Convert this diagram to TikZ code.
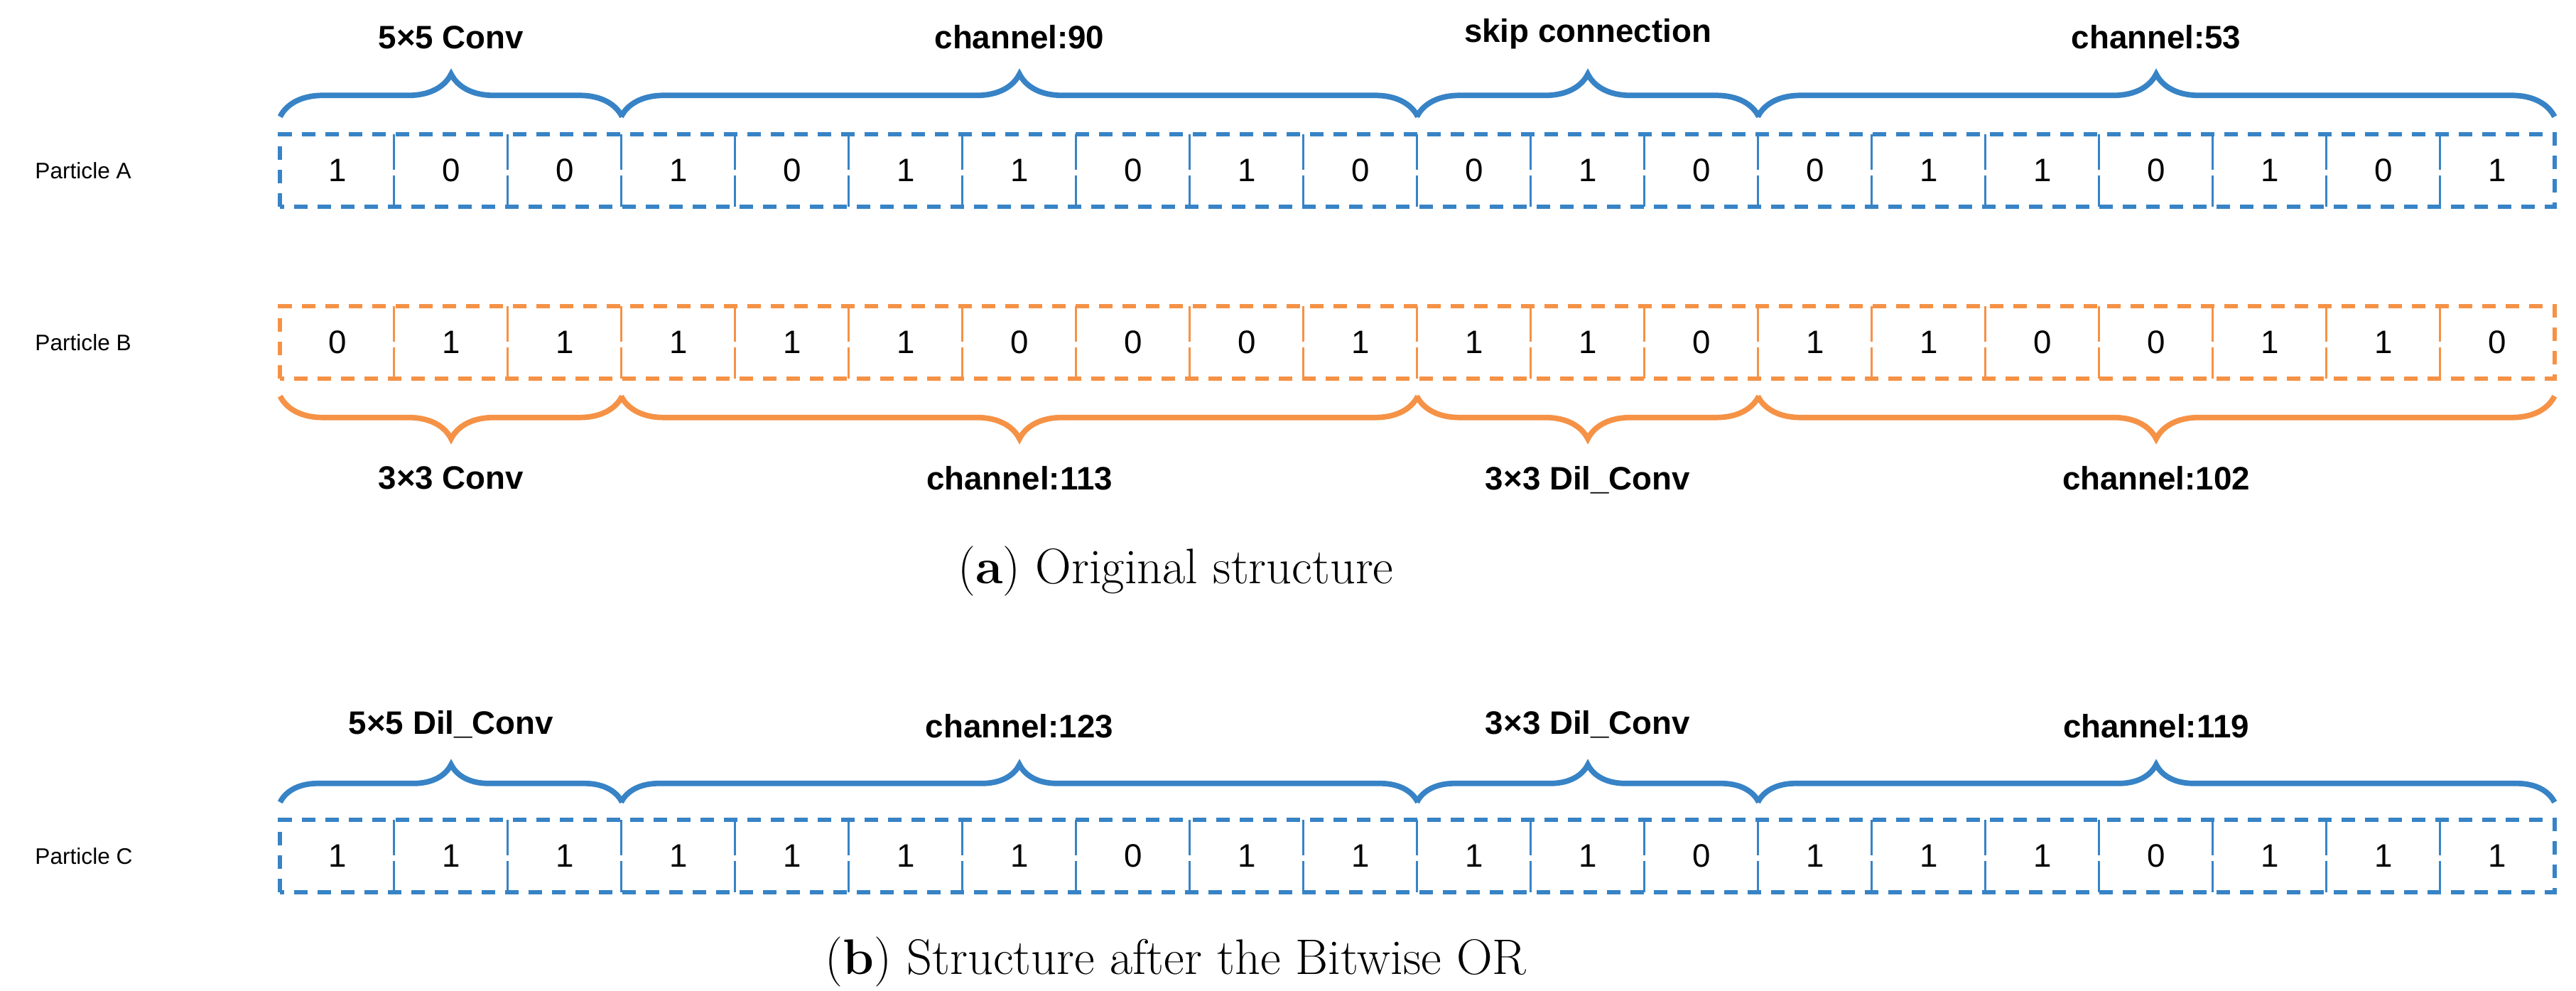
\documentclass[tikz,border=0pt]{standalone}
\usepackage{fontspec}
\newfontfamily\arialfont{Liberation Sans}
\usetikzlibrary{decorations.pathreplacing}
\definecolor{pblue}{RGB}{55,131,198}
\definecolor{porange}{RGB}{245,146,70}
\tikzset{
	cell/.style={minimum width=1.6cm, minimum height=1cm, inner sep=0pt, font=\arialfont\fontsize{13}{15}\selectfont},
	outer/.style={line width=1.7pt, dash pattern=on 0.19cm off 0.14cm},
	inner/.style={line width=0.9pt, dash pattern=on 0.5cm off 0.08cm},
	brc/.style={decorate, decoration={brace, amplitude=0.6cm, raise=0.25cm}, line width=2.2pt},
	brlabel/.style={text=black, font=\arialfont\bfseries\fontsize{13}{15}\selectfont},
	plabel/.style={anchor=west, font=\arialfont\fontsize{9}{11}\selectfont},
	caption/.style={font=\fontsize{20}{24}\selectfont}
}
\begin{document}
\begin{tikzpicture}
	\useasboundingbox (0,0) rectangle (36.26,13.94);

	% particle rows
	\foreach \r/\y/\c/\bits in {A/11.54/pblue/{1,0,0,1,0,1,1,0,1,0,0,1,0,0,1,1,0,1,0,1},
		B/9.12/porange/{0,1,1,1,1,1,0,0,0,1,1,1,0,1,1,0,0,1,1,0},
		C/1.89/pblue/{1,1,1,1,1,1,1,0,1,1,1,1,0,1,1,1,0,1,1,1}}
	{
		\foreach \b [count=\i] in \bits
		{
			\node[cell] (\r\i) at (3.15 + 1.6*\i, \y) {\b};
		}
		\draw[outer, \c] (\r1.south west) rectangle (\r20.north east);
		\foreach \i in {2,...,20}
		{
			\draw[inner, \c] (\r\i.north west) -- (\r\i.south west);
		}
		\node[plabel] (lab\r) at (0.37, \y) {Particle \r};
	}

	% braces of particle A
	\draw[brc, pblue] (A1.north west) -- (A3.north east) node[brlabel, midway, above=1.05cm] (a1) {5×5 Conv};
	\draw[brc, pblue] (A4.north west) -- (A10.north east) node[brlabel, midway, above=1.05cm] (a2) {channel:90};
	\draw[brc, pblue] (A11.north west) -- (A13.north east) node[brlabel, midway, above=1.05cm] (a3) {skip connection};
	\draw[brc, pblue] (A14.north west) -- (A20.north east) node[brlabel, midway, above=1.05cm] (a4) {channel:53};

	% braces of particle B
	\draw[brc, porange, decoration={mirror}] (B1.south west) -- (B3.south east) node[brlabel, midway, below=1.08cm] (b1) {3×3 Conv};
	\draw[brc, porange, decoration={mirror}] (B4.south west) -- (B10.south east) node[brlabel, midway, below=1.08cm] (b2) {channel:113};
	\draw[brc, porange, decoration={mirror}] (B11.south west) -- (B13.south east) node[brlabel, midway, below=1.08cm] (b3) {3×3 Dil\_Conv};
	\draw[brc, porange, decoration={mirror}] (B14.south west) -- (B20.south east) node[brlabel, midway, below=1.08cm] (b4) {channel:102};

	\node[caption] (capa) at (16.55, 5.9) {(\textbf{a}) Original structure};

	% braces of particle C
	\draw[brc, pblue, decoration={amplitude=0.53cm}] (C1.north west) -- (C3.north east) node[brlabel, midway, above=1.0cm] (c1) {5×5 Dil\_Conv};
	\draw[brc, pblue, decoration={amplitude=0.53cm}] (C4.north west) -- (C10.north east) node[brlabel, midway, above=1.0cm] (c2) {channel:123};
	\draw[brc, pblue, decoration={amplitude=0.53cm}] (C11.north west) -- (C13.north east) node[brlabel, midway, above=1.0cm] (c3) {3×3 Dil\_Conv};
	\draw[brc, pblue, decoration={amplitude=0.53cm}] (C14.north west) -- (C20.north east) node[brlabel, midway, above=1.0cm] (c4) {channel:119};

	\node[caption] (capb) at (16.55, 0.4) {(\textbf{b}) Structure after the Bitwise OR};
\end{tikzpicture}
\end{document}
